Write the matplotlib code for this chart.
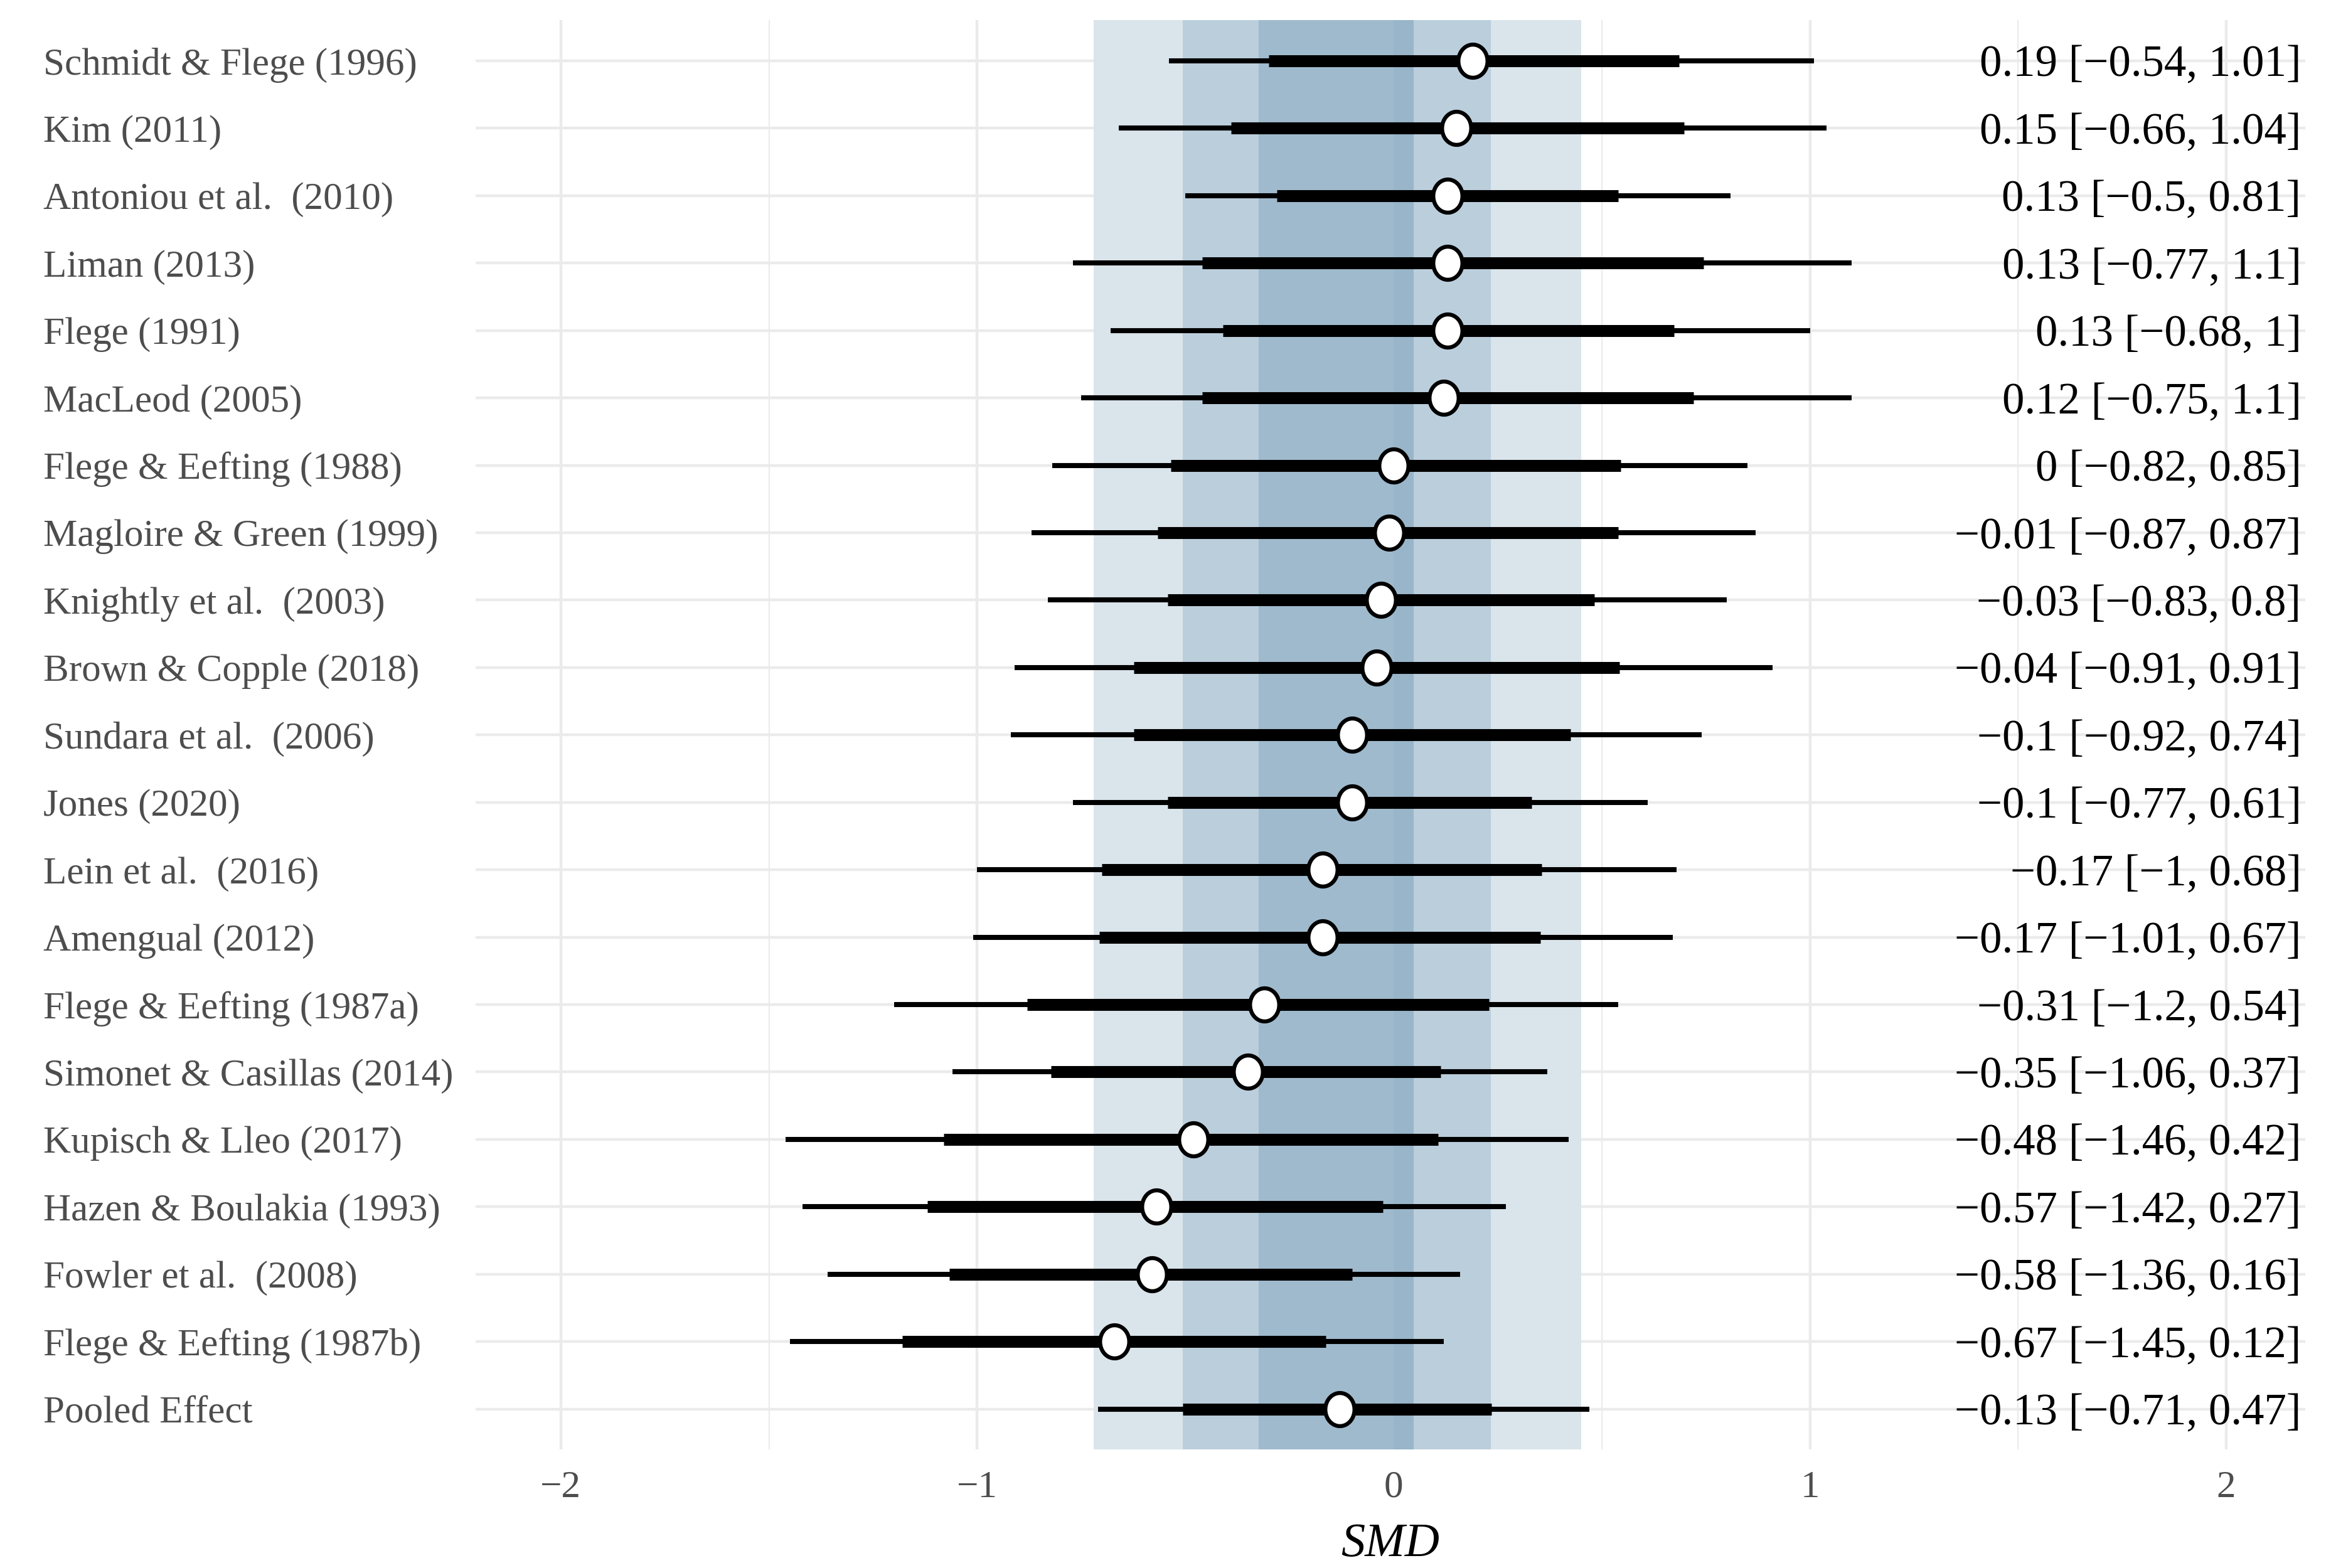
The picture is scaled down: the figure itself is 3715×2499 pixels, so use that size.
import numpy as np
import matplotlib.pyplot as plt
from matplotlib.path import Path

plt.rcParams['font.family'] = ['Liberation Serif', 'DejaVu Serif']

# study rows, top to bottom
studies = ["Schmidt & Flege (1996)", "Kim (2011)", "Antoniou et al.  (2010)", "Liman (2013)",
           "Flege (1991)", "MacLeod (2005)", "Flege & Eefting (1988)", "Magloire & Green (1999)",
           "Knightly et al.  (2003)", "Brown & Copple (2018)", "Sundara et al.  (2006)", "Jones (2020)",
           "Lein et al.  (2016)", "Amengual (2012)", "Flege & Eefting (1987a)",
           "Simonet & Casillas (2014)", "Kupisch & Lleo (2017)", "Hazen & Boulakia (1993)",
           "Fowler et al.  (2008)", "Flege & Eefting (1987b)", "Pooled Effect"]
est = [0.19, 0.15, 0.13, 0.13, 0.13, 0.12, 0, -0.01, -0.03, -0.04, -0.1, -0.1, -0.17, -0.17,
       -0.31, -0.35, -0.48, -0.57, -0.58, -0.67, -0.13]
lo95 = [-0.54, -0.66, -0.5, -0.77, -0.68, -0.75, -0.82, -0.87, -0.83, -0.91, -0.92, -0.77, -1,
        -1.01, -1.2, -1.06, -1.46, -1.42, -1.36, -1.45, -0.71]
hi95 = [1.01, 1.04, 0.81, 1.1, 1, 1.1, 0.85, 0.87, 0.8, 0.91, 0.74, 0.61, 0.68, 0.67, 0.54,
        0.37, 0.42, 0.27, 0.16, 0.12, 0.47]
# inner (thick) interval
lo_in = [-0.30, -0.39, -0.28, -0.46, -0.41, -0.46, -0.535, -0.567, -0.542, -0.624, -0.624,
         -0.542, -0.70, -0.707, -0.88, -0.823, -1.08, -1.12, -1.067, -1.18, -0.506]
hi_in = [0.686, 0.698, 0.54, 0.745, 0.673, 0.72, 0.546, 0.539, 0.482, 0.542, 0.425, 0.332,
         0.356, 0.353, 0.229, 0.113, 0.107, -0.025, -0.10, -0.163, 0.235]

# shaded pooled-effect bands (outer to inner)
band_lo = [-0.72, -0.506, -0.324, 0.0]
band_hi = [0.45, 0.234, 0.048, 0.048]
band_col = ['#DAE4EB', '#BBCEDC', '#9FBACD', '#98B5C9']

xticks = [-2, -1, 0, 1, 2]


def fmt(v):
    return ('%g' % v).replace('-', '\u2212')


n = len(studies)
ypos = np.arange(n, 0, -1)

fig = plt.figure(figsize=(37.15, 24.99), dpi=100)
ax = fig.add_axes([0.2040, 0.0756, 0.9890 - 0.2040, 0.987 - 0.0756])

ax.set_xlim(-2.205, 2.19)
ax.set_ylim(0.4, n + 0.6)

# grid
for x in np.arange(-2, 2.01, 1):
    ax.axvline(x, color='#EBEBEB', lw=3.2, zorder=0)
for x in np.arange(-1.5, 2.0, 1):
    ax.axvline(x, color='#EBEBEB', lw=1.6, zorder=0)
for y in ypos:
    ax.axhline(y, color='#EBEBEB', lw=3.2, zorder=0)

for lo, hi, c in zip(band_lo, band_hi, band_col):
    ax.axvspan(lo, hi, color=c, lw=0, zorder=1)

ax.hlines(ypos, lo95, hi95, color='black', lw=5.8, capstyle='butt', zorder=3)
ax.hlines(ypos, lo_in, hi_in, color='black', lw=13.7, capstyle='butt', zorder=4)

t = np.linspace(0, 2 * np.pi, 80)
ell = Path(np.column_stack([0.88 * np.cos(t), np.sin(t)]), closed=True)
ax.plot(est, ypos, linestyle='none', marker=ell, ms=38, mfc='white', mec='black',
        mew=4.6, zorder=5)

for y, e, lo, hi in zip(ypos, est, lo95, hi95):
    ax.text(2.18, y, '%s [%s, %s]' % (fmt(e), fmt(lo), fmt(hi)), ha='right',
            va='center_baseline', fontsize=51, color='black', zorder=6)

ax.set_yticks(ypos)
ax.set_yticklabels(studies, ha='left', fontsize=44, color='#4D4D4D')
ax.tick_params(axis='y', length=0, pad=496)
ax.set_xticks(xticks)
ax.set_xticklabels([fmt(v) for v in xticks], fontsize=44, color='#4D4D4D')
ax.tick_params(axis='x', length=0, pad=24)
ax.set_xlabel('SMD', fontsize=55, style='italic', labelpad=20)

for s in ax.spines.values():
    s.set_visible(False)

fig.savefig('out.png', dpi=100, facecolor='white')
